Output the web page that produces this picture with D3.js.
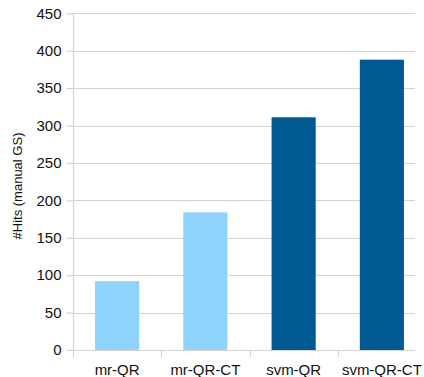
<!DOCTYPE html>
<html>
<head>
<meta charset="utf-8">
<script src="https://cdn.jsdelivr.net/npm/d3@7"></script>
<style>
  html, body { margin: 0; padding: 0; background: #fff; }
  svg { display: block; font-family: "Liberation Sans", Arial, sans-serif; }
</style>
</head>
<body>
<svg id="chart" width="424" height="377"></svg>
<script>
// Hit counts per method
const categories = ["mr-QR", "mr-QR-CT", "svm-QR", "svm-QR-CT"];
const hits = [92, 184, 311, 388];
const groups = ["mr", "mr", "svm", "svm"];
const yTicks = [0, 50, 100, 150, 200, 250, 300, 350, 400, 450];
const yTitle = "#Hits (manual GS)";

const svg = d3.select("#chart");
const plotLeft = 73, plotRight = 426, plotTop = 13.3, plotBottom = 350, gridEnd = 415;

const x = d3.scaleBand().domain(categories).range([plotLeft, plotRight]).paddingInner(0.5).paddingOuter(0.25);
const y = d3.scaleLinear().domain([0, 450]).range([plotBottom, plotTop]);
const color = d3.scaleOrdinal().domain(["mr", "svm"]).range(["#8fd3fd", "#005a92"]);

// horizontal gridlines
svg.append("g").selectAll("line").data(yTicks).join("line")
  .attr("x1", plotLeft).attr("x2", gridEnd)
  .attr("y1", d => Math.round(y(d)) + 0.5).attr("y2", d => Math.round(y(d)) + 0.5)
  .attr("stroke", "#d3d3d3").attr("stroke-width", 1.2);

// bars
svg.append("g").selectAll("rect").data(categories).join("rect")
  .attr("x", d => x(d))
  .attr("width", x.bandwidth())
  .attr("y", (d, i) => y(hits[i]))
  .attr("height", (d, i) => plotBottom - y(hits[i]))
  .attr("fill", (d, i) => color(groups[i]));

// y axis
const yAxis = d3.axisLeft(y).tickValues(yTicks).tickSize(7).tickPadding(5).tickFormat(d3.format("d"));
const gy = svg.append("g").attr("transform", `translate(${plotLeft + 0.5},0)`).call(yAxis);
gy.select(".domain").attr("stroke", "#d3d3d3").attr("stroke-width", 1.2)
  .attr("d", `M0,${plotTop}V${plotBottom + 7}`);
gy.selectAll(".tick line").attr("stroke", "#d3d3d3").attr("stroke-width", 1.2);
gy.selectAll(".tick text").attr("font-size", 15).attr("fill", "#111")
  .attr("font-family", "'Liberation Sans', Arial, sans-serif");

// x axis with ticks at band boundaries
const boundaries = categories.slice(1).map(c => x(c) - x.step() * x.paddingInner() / 2);
const gx = svg.append("g");
gx.append("line").attr("x1", plotLeft).attr("x2", gridEnd)
  .attr("y1", plotBottom + 0.5).attr("y2", plotBottom + 0.5)
  .attr("stroke", "#d3d3d3").attr("stroke-width", 1.2);
gx.selectAll("line.tk").data(boundaries).join("line").attr("class", "tk")
  .attr("x1", d => Math.round(d) + 0.5).attr("x2", d => Math.round(d) + 0.5)
  .attr("y1", plotBottom).attr("y2", plotBottom + 7)
  .attr("stroke", "#d3d3d3").attr("stroke-width", 1.2);
gx.selectAll("text").data(categories).join("text")
  .attr("x", d => x(d) + x.bandwidth() / 2)
  .attr("y", 375)
  .attr("text-anchor", "middle")
  .attr("font-size", 15).attr("fill", "#111")
  .text(d => d);

// y axis title
svg.append("text")
  .attr("transform", "translate(22,186) rotate(-90)")
  .attr("text-anchor", "middle")
  .attr("font-size", 13).attr("fill", "#111")
  .text(yTitle);
</script>
</body>
</html>
